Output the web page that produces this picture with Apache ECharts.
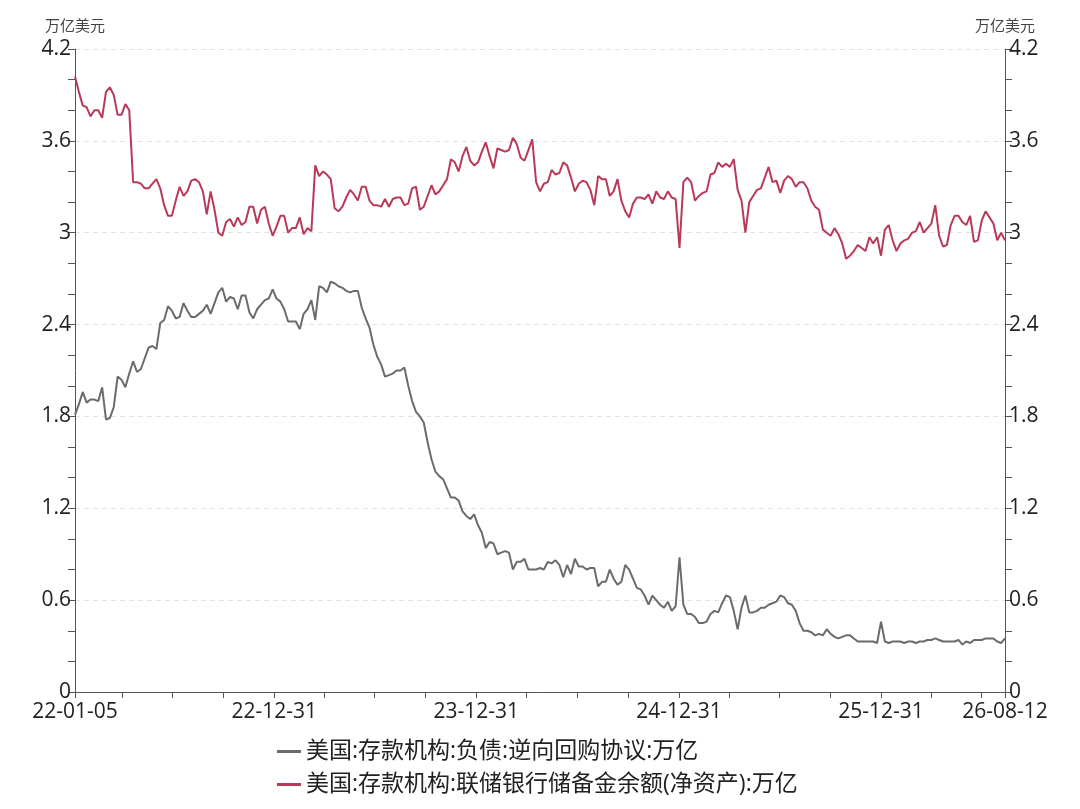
<!DOCTYPE html>
<html>
<head>
<meta charset="utf-8">
<script src="https://cdn.jsdelivr.net/npm/echarts@6/dist/echarts.min.js"></script>
<style>
  html, body { margin: 0; padding: 0; background: #fff; }
  #chart { width: 1080px; height: 809px; }
</style>
</head>
<body>
<div id="chart"></div>
<script>
// weekly observations, first week and count
const startDate = '2022-01-05'
const weekCount = 241

const repoName = '美国:存款机构:负债:逆向回购协议:万亿'
const reserveName = '美国:存款机构:联储银行储备金余额(净资产):万亿'

// 逆向回购协议 (万亿美元)
const repoValues = [
  1.81, 1.88, 1.96, 1.89, 1.91, 1.91, 1.90, 1.99, 1.78, 1.79,
  1.86, 2.06, 2.04, 1.99, 2.08, 2.16, 2.09, 2.11, 2.18, 2.25,
  2.26, 2.24, 2.41, 2.43, 2.52, 2.49, 2.44, 2.45, 2.54, 2.49,
  2.45, 2.45, 2.47, 2.49, 2.53, 2.47, 2.54, 2.61, 2.64, 2.55,
  2.58, 2.57, 2.50, 2.59, 2.59, 2.48, 2.44, 2.50, 2.53, 2.56,
  2.57, 2.63, 2.57, 2.55, 2.50, 2.42, 2.42, 2.42, 2.37, 2.47,
  2.50, 2.56, 2.43, 2.65, 2.64, 2.61, 2.68, 2.67, 2.65, 2.64,
  2.62, 2.61, 2.62, 2.62, 2.51, 2.44, 2.38, 2.27, 2.19, 2.14,
  2.06, 2.07, 2.08, 2.10, 2.10, 2.12, 2.00, 1.90, 1.83, 1.80,
  1.76, 1.63, 1.52, 1.44, 1.41, 1.39, 1.33, 1.27, 1.27, 1.25,
  1.18, 1.15, 1.13, 1.16, 1.09, 1.04, 0.94, 0.98, 0.97, 0.90,
  0.91, 0.92, 0.91, 0.80, 0.85, 0.85, 0.87, 0.80, 0.80, 0.80,
  0.81, 0.80, 0.85, 0.84, 0.86, 0.83, 0.75, 0.83, 0.77, 0.87,
  0.82, 0.82, 0.80, 0.81, 0.81, 0.69, 0.72, 0.72, 0.80, 0.74,
  0.70, 0.72, 0.83, 0.80, 0.74, 0.68, 0.67, 0.63, 0.57, 0.63,
  0.60, 0.57, 0.55, 0.59, 0.53, 0.56, 0.88, 0.57, 0.51, 0.51,
  0.49, 0.45, 0.45, 0.46, 0.51, 0.53, 0.52, 0.58, 0.63, 0.62,
  0.53, 0.41, 0.55, 0.63, 0.52, 0.52, 0.53, 0.55, 0.55, 0.57,
  0.58, 0.59, 0.63, 0.62, 0.58, 0.57, 0.53, 0.45, 0.40, 0.40,
  0.39, 0.37, 0.38, 0.37, 0.41, 0.38, 0.36, 0.35, 0.36, 0.37,
  0.37, 0.35, 0.33, 0.33, 0.33, 0.33, 0.33, 0.32, 0.46, 0.33,
  0.32, 0.33, 0.33, 0.33, 0.32, 0.33, 0.33, 0.32, 0.33, 0.33,
  0.34, 0.34, 0.35, 0.34, 0.33, 0.33, 0.33, 0.33, 0.34, 0.31,
  0.33, 0.32, 0.34, 0.34, 0.34, 0.35, 0.35, 0.35, 0.33, 0.32,
  0.35
]

// 联储银行储备金余额 (万亿美元)
const reserveValues = [
  4.02, 3.92, 3.83, 3.82, 3.76, 3.80, 3.80, 3.75, 3.92, 3.95,
  3.90, 3.77, 3.77, 3.84, 3.80, 3.33, 3.33, 3.32, 3.29, 3.29,
  3.32, 3.35, 3.29, 3.18, 3.11, 3.11, 3.21, 3.30, 3.24, 3.27,
  3.34, 3.35, 3.33, 3.27, 3.12, 3.27, 3.15, 3.00, 2.98, 3.07,
  3.09, 3.04, 3.10, 3.05, 3.07, 3.17, 3.17, 3.06, 3.15, 3.17,
  3.06, 2.98, 3.04, 3.11, 3.11, 3.00, 3.03, 3.03, 3.10, 2.99,
  3.03, 3.01, 3.44, 3.37, 3.40, 3.38, 3.35, 3.16, 3.14, 3.17,
  3.23, 3.28, 3.25, 3.21, 3.30, 3.30, 3.21, 3.18, 3.18, 3.17,
  3.22, 3.17, 3.22, 3.23, 3.23, 3.18, 3.19, 3.29, 3.30, 3.15,
  3.17, 3.24, 3.31, 3.25, 3.27, 3.31, 3.35, 3.48, 3.46, 3.40,
  3.50, 3.56, 3.47, 3.44, 3.46, 3.53, 3.59, 3.50, 3.42, 3.55,
  3.54, 3.53, 3.54, 3.62, 3.58, 3.49, 3.47, 3.54, 3.61, 3.33,
  3.27, 3.32, 3.33, 3.41, 3.38, 3.39, 3.46, 3.44, 3.36, 3.27,
  3.32, 3.34, 3.33, 3.28, 3.18, 3.37, 3.35, 3.35, 3.24, 3.27,
  3.35, 3.21, 3.14, 3.10, 3.19, 3.23, 3.23, 3.22, 3.25, 3.19,
  3.27, 3.23, 3.22, 3.27, 3.23, 3.22, 2.90, 3.33, 3.36, 3.33,
  3.21, 3.24, 3.26, 3.27, 3.38, 3.39, 3.46, 3.43, 3.45, 3.43,
  3.48, 3.28, 3.21, 3.00, 3.20, 3.24, 3.28, 3.29, 3.36, 3.43,
  3.33, 3.34, 3.26, 3.34, 3.37, 3.35, 3.30, 3.33, 3.33, 3.29,
  3.21, 3.17, 3.15, 3.02, 3.00, 2.98, 3.03, 2.99, 2.93, 2.83,
  2.85, 2.88, 2.92, 2.90, 2.88, 2.97, 2.93, 2.97, 2.85, 3.02,
  3.05, 2.95, 2.88, 2.93, 2.95, 2.96, 3.00, 3.01, 3.07, 3.00,
  3.03, 3.06, 3.18, 2.98, 2.91, 2.92, 3.05, 3.11, 3.11, 3.07,
  3.05, 3.11, 2.94, 2.95, 3.08, 3.14, 3.10, 3.06, 2.95, 3.00,
  2.95
]

// x axis labels and quarterly tick marks
const labelDates = ['2022-01-05', '2022-12-31', '2023-12-31', '2024-12-31', '2025-12-31', '2026-08-12']
const tickDates = [
  '2022-01-05', '2022-03-31', '2022-06-30', '2022-09-30', '2022-12-31',
  '2023-03-31', '2023-06-30', '2023-09-30', '2023-12-31',
  '2024-03-31', '2024-06-30', '2024-09-30', '2024-12-31',
  '2025-03-31', '2025-06-30', '2025-09-30', '2025-12-31',
  '2026-03-31', '2026-06-30', '2026-08-12'
]
const yTicks = { min: 0, max: 4.2, interval: 0.6 }

function toTime(s) {
  const p = s.split('-').map(Number)
  return new Date(p[0], p[1] - 1, p[2]).getTime()
}
function fmt(t) {
  const d = new Date(t)
  const pad = n => String(n).padStart(2, '0')
  return pad(d.getFullYear() % 100) + '-' + pad(d.getMonth() + 1) + '-' + pad(d.getDate())
}

const t0 = toTime(startDate)
const weeks = []
for (let i = 0; i < weekCount; i++) {
  const d = new Date(t0)
  d.setDate(d.getDate() + i * 7)
  weeks.push(d.getTime())
}

const font = "'Open Sans', 'Noto Sans CJK SC', sans-serif"
const axisColor = '#555'

const yAxisBase = (pos) => ({
  type: 'value',
  position: pos,
  min: yTicks.min,
  max: yTicks.max,
  interval: yTicks.interval,
  name: '万亿美元',
  nameLocation: 'end',
  nameGap: 15,
  nameTextStyle: { fontSize: 15, color: '#444', fontFamily: font },
  axisLine: { show: true, lineStyle: { color: axisColor, width: 1 } },
  axisTick: { show: true, length: 7, lineStyle: { color: axisColor } },
  minorTick: { show: true, splitNumber: 3, length: 7, lineStyle: { color: axisColor } },
  axisLabel: { fontSize: 21, color: '#222', margin: 4, fontFamily: font },
  splitLine: { show: pos === 'left', lineStyle: { color: '#e3e3e3', type: [5, 4] } }
})

const chart = echarts.init(document.getElementById('chart'))
chart.setOption({
  animation: false,
  textStyle: { fontFamily: font },
  grid: { left: 75, right: 75, top: 49, bottom: 117, containLabel: false },
  legend: {
    orient: 'vertical',
    left: 272,
    top: 735,
    itemGap: 10,
    itemWidth: 24,
    itemHeight: 3,
    icon: 'rect',
    textStyle: { fontSize: 23, color: '#222', fontFamily: font },
    data: [repoName, reserveName]
  },
  xAxis: {
    type: 'value',
    scale: true,
    min: toTime(labelDates[0]),
    max: toTime(labelDates[labelDates.length - 1]),
    axisLine: { show: true, onZero: false, lineStyle: { color: axisColor } },
    axisTick: { show: true, length: 6, lineStyle: { color: axisColor }, customValues: tickDates.map(toTime) },
    axisLabel: {
      fontSize: 21, color: '#222', margin: 10, fontFamily: font,
      customValues: labelDates.map(toTime),
      formatter: (v) => fmt(v)
    },
    splitLine: { show: false }
  },
  yAxis: [yAxisBase('left'), yAxisBase('right')],
  series: [
    {
      name: repoName,
      type: 'line',
      yAxisIndex: 0,
      showSymbol: false,
      symbol: 'none',
      lineStyle: { width: 2, color: '#6b6b6b' },
      itemStyle: { color: '#6b6b6b' },
      data: weeks.map((t, i) => [t, repoValues[i]])
    },
    {
      name: reserveName,
      type: 'line',
      yAxisIndex: 0,
      showSymbol: false,
      symbol: 'none',
      lineStyle: { width: 2, color: '#b83a58' },
      itemStyle: { color: '#b83a58' },
      data: weeks.map((t, i) => [t, reserveValues[i]])
    }
  ]
})
</script>
</body>
</html>
